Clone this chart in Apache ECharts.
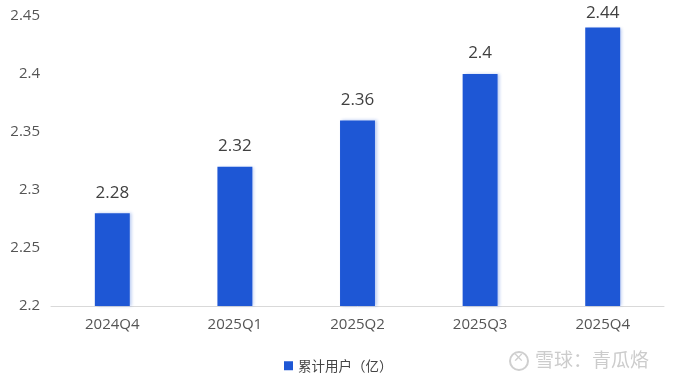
<!DOCTYPE html>
<html><head><meta charset="utf-8">
<script src="https://cdn.jsdelivr.net/npm/echarts@6/dist/echarts.min.js"></script>
<style>html,body{margin:0;padding:0;background:#fff}#c{width:674px;height:379px}</style>
</head><body><div id="c"></div>
<script>
const categories = ['2024Q4','2025Q1','2025Q2','2025Q3','2025Q4'];
const users = [2.28, 2.32, 2.36, 2.4, 2.44];
const seriesName = '累计用户（亿）';
const barData = users.map((v, i) => i === users.length - 1 ? {value: v, label: {distance: 6}} : v);
const chart = echarts.init(document.getElementById('c'));
chart.setOption({
  animation: false,
  textStyle: {fontFamily: '"Open Sans","Noto Sans CJK SC",sans-serif'},
  grid: {left: 51, right: 10, top: 16, bottom: 73, containLabel: false},
  legend: {
    top: 354, left: 279, itemWidth: 9, itemHeight: 9, icon: 'rect', itemGap: 6,
    textStyle: {fontSize: 13.5, color: '#444', fontFamily: '"Noto Sans CJK SC",sans-serif'},
    data: [seriesName]
  },
  xAxis: {
    type: 'category', data: categories,
    axisLine: {lineStyle: {color: '#d9d9d9'}},
    axisTick: {show: false},
    axisLabel: {fontSize: 15, color: '#555', margin: 11}
  },
  yAxis: {
    type: 'value', min: 2.2, max: 2.45, interval: 0.05,
    splitLine: {show: false},
    axisLine: {show: false}, axisTick: {show: false},
    axisLabel: {fontSize: 15, color: '#555', margin: 11}
  },
  series: [{
    name: seriesName, type: 'bar', data: barData, barWidth: '28.5%',
    itemStyle: {color: '#1E57D5', shadowColor: 'rgba(30,87,213,0.3)', shadowBlur: 3, shadowOffsetX: 2},
    label: {show: true, position: 'top', distance: 12, fontSize: 17, color: '#404040'}
  }],
  graphic: [
    {type: 'circle', shape: {cx: 519, cy: 361, r: 9}, style: {fill: 'none', stroke: '#cfcfcf', lineWidth: 2}},
    {type: 'text', left: 513, top: 352, style: {text: '✕', fontSize: 13, fill: '#cfcfcf'}},
    {type: 'text', left: 535, top: 350, style: {text: '雪球：青瓜烙', fontSize: 19, fill: '#cccccc', fontFamily: '"Noto Sans CJK SC",sans-serif'}}
  ]
});
</script></body></html>
